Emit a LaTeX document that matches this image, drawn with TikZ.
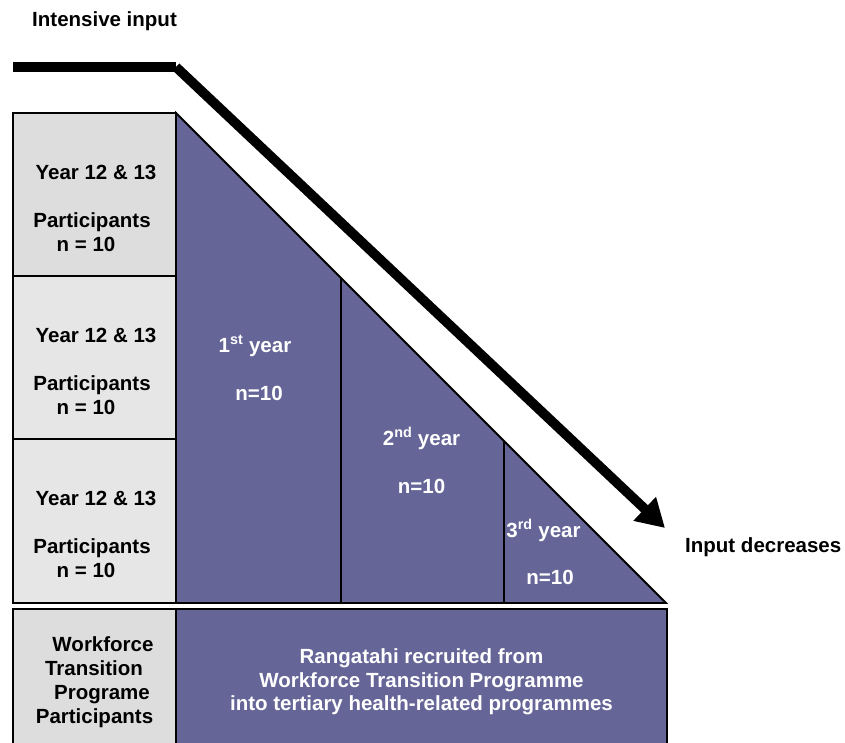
\documentclass[tikz,border=0pt]{standalone}
\usepackage{fontspec}
\setmainfont{Liberation Sans}
\usetikzlibrary{arrows.meta}

\definecolor{panel}{RGB}{101,101,151}
\definecolor{greyA}{RGB}{221,221,221}
\definecolor{greyB}{RGB}{230,230,230}

\begin{document}
\begin{tikzpicture}[x=1pt,y=-1pt,
  lbl/.style={font=\fontsize{20.5}{24}\selectfont\bfseries, inner sep=0pt, anchor=base},
  wlbl/.style={lbl, text=white},
  box/.style={draw=black, line width=1.8pt},
  thick arrow/.style={line width=9.7pt},
]
\useasboundingbox (0,0) rectangle (845,742);

% participant boxes on the left
\filldraw[box, fill=greyA] (13,113) rectangle (176,276);
\filldraw[box, fill=greyB] (13,276) rectangle (176,439);
\filldraw[box, fill=greyB] (13,439) rectangle (176,603);

% tertiary years as a stepped triangle
\filldraw[box, fill=panel] (176,113) -- (666,603) -- (176,603) -- cycle;
\draw[box] (341,278) -- (341,603);
\draw[box] (504,441) -- (504,603);

% bottom row
\filldraw[box, fill=greyA] (13,609) rectangle (176,748);
\filldraw[box, fill=panel] (176,609) rectangle (667,748);

% input arrow
\coordinate (start) at (13,67);
\coordinate (bend) at (176,67);
\coordinate (tip) at (665,528);
\draw[thick arrow] (start) -- (bend);
\draw[thick arrow, -{Triangle[length=28pt,width=31pt]}] (bend) -- (tip);

\node[lbl, anchor=base west] (intensive) at (32,26) {Intensive input};
\node[lbl, anchor=base west] (decreases) at (685,552) {Input decreases};

% left column texts
\node[lbl] (yA) at (96,179) {Year 12 \& 13};
\node[lbl] (pA) at (92,227) {Participants};
\node[lbl] (nA) at (86,251) {n = 10};
\node[lbl] (yB) at (96,342) {Year 12 \& 13};
\node[lbl] (pB) at (92,390) {Participants};
\node[lbl] (nB) at (86,414) {n = 10};
\node[lbl] (yC) at (96,505) {Year 12 \& 13};
\node[lbl] (pC) at (92,553) {Participants};
\node[lbl] (nC) at (86,577) {n = 10};

% year labels
\node[wlbl] (first) at (255,352) {1\textsuperscript{st} year};
\node[wlbl] (firstn) at (259,400) {n=10};
\node[wlbl] (second) at (421.5,445) {2\textsuperscript{nd} year};
\node[wlbl] (secondn) at (421.5,493) {n=10};
\node[wlbl] (third) at (543.5,537) {3\textsuperscript{rd} year};
\node[wlbl] (thirdn) at (550,584) {n=10};

% bottom row texts
\node[lbl] (wf1) at (103,651) {Workforce};
\node[lbl] (wf2) at (94,675) {Transition};
\node[lbl] (wf3) at (102,699) {Programe};
\node[lbl] (wf4) at (94.5,723) {Participants};

\node[wlbl] (rg1) at (421.5,663) {Rangatahi recruited from};
\node[wlbl] (rg2) at (421.5,687) {Workforce Transition Programme};
\node[wlbl] (rg3) at (421.5,710) {into tertiary health-related programmes};
\end{tikzpicture}
\end{document}
